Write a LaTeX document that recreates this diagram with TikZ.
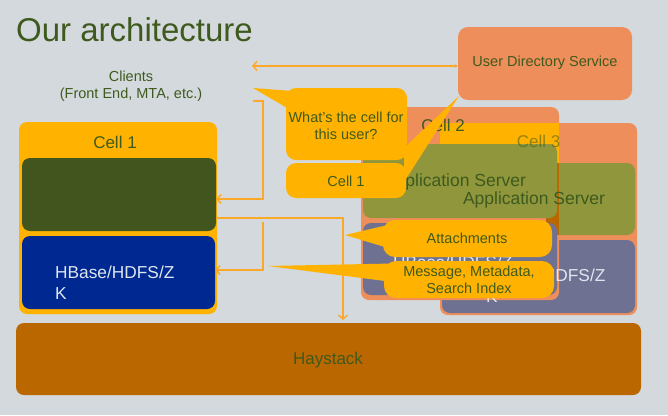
\documentclass[tikz,border=0pt]{standalone}
\usepackage{fontspec}
\setmainfont{Liberation Sans}
\usetikzlibrary{arrows.meta,calc,fit}
\definecolor{bg}{HTML}{D4D9DD}
\definecolor{orY}{HTML}{FFB300}
\definecolor{salmon}{HTML}{EE8E5A}
\definecolor{olive}{HTML}{8F963C}
\definecolor{dgreen}{HTML}{42551E}
\definecolor{dblue}{HTML}{002891}
\definecolor{slate}{HTML}{6E7191}
\definecolor{brown}{HTML}{BB6700}
\definecolor{tgreen}{HTML}{3F5A1E}
\definecolor{ltext}{HTML}{E0E6EE}
\definecolor{lineor}{HTML}{FCA828}
\begin{document}
\begin{tikzpicture}[x=1pt,y=-1pt,
  boxs/.style={rectangle, rounded corners=8pt, inner sep=0pt, draw=none},
  txt/.style={font=\fontsize{14.5}{17}\selectfont, text=tgreen, inner sep=0pt, align=center},
  lbl/.style={font=\fontsize{17}{20}\selectfont, text=tgreen, inner sep=0pt},
  hb/.style={font=\fontsize{17.3}{21}\selectfont, text=ltext, inner sep=0pt, align=left, anchor=west},
  conn/.style={draw=lineor, line width=1.8pt},
  barb/.tip={Straight Barb[length=4pt,width=9pt,line width=1.4pt]}
]
\useasboundingbox (0,0) rectangle (668,415);
\fill[bg] (0,0) rectangle (668,415);

% title and clients
\node[anchor=base west, font=\fontsize{33}{36}\selectfont, text=tgreen, inner sep=0pt] (title) at (16,41) {Our architecture};
\node[txt] (clients) at (131,86) {Clients\\(Front End, MTA, etc.)};

% user directory service
\node[boxs, rounded corners=10pt, fill=salmon, fit={(458,27) (632,100)}] (uds) {};
\node[txt] (udst) at (545,63) {User Directory Service};

% cell 1
\node[boxs, fill=orY, fit={(19,122) (217,314)}] (cell1) {};
\node[lbl] (cell1t) at (115,142) {Cell 1};
\node[boxs, fill=dgreen, fit={(22,158) (216,231)}] (app1) {};
\node[boxs, fill=dblue, fit={(22,236) (215,309)}] (hbase1) {};
\node[hb] (hbase1t) at (55,282.5) {HBase/HDFS/Z\\K};

% cell 3
\node[boxs, fill=salmon, fit={(440,123) (637,315)}] (cell3) {};
\node[boxs, fill=olive, fit={(440,163) (635,235)}] (app3) {};
\node[boxs, fill=slate, fit={(442,240) (635,313)}] (hbase3) {};

% cell 2
\node[boxs, fill=salmon, fit={(361,107) (559,300)}] (cell2) {};
\fill[orY] (cell3.north west) rectangle (cell2.east |- app3.north);
\fill[brown] (546,163) rectangle (cell2.east |- app3.south);
\node[lbl] (cell2t) at (443,125) {Cell 2};
\node[boxs, fill=olive, fit={(363,144) (557,218)}] (app2) {};
\begin{scope}
  \clip (cell3.north west) rectangle (cell2.east |- hbase3.south);
  \node[lbl, text opacity=0.55] (cell3t) at (538.5,141.5) {Cell 3};
\end{scope}
\node[lbl, font=\fontsize{17.5}{20}\selectfont] (app2t) at (455,182) {Application Server};
\node[boxs, fill=slate, fit={(363,223) (557,295)}] (hbase2) {};
\node[hb] (hbase2t) at (393,272.5) {HBase/HDFS/Z\\K};
\node[lbl, font=\fontsize{17.5}{20}\selectfont] (app3t) at (534,200) {Application Server};
\node[hb] (hbase3t) at (486,285.5) {HBase/HDFS/Z\\K};

% haystack
\node[boxs, fill=brown, fit={(16,323) (641,395)}] (haystack) {};
\node[lbl] (haystackt) at (328,360) {Haystack};

% connectors
\coordinate (cl) at (252,66);
\draw[conn, {Triangle[length=3pt,width=3.5pt]}-barb] (uds.west |- cl) -- (cl);
\coordinate (k1) at (253,101);
\coordinate (k1t) at (263,199);
\draw[conn, -barb] (k1) -| (k1t) -- (app1.east |- k1t);
\coordinate (hs) at (217,218);
\coordinate (hx) at (343,320);
\draw[conn, -barb] (app1.east |- hs) -| (hx);
\coordinate (k2) at (263,222);
\coordinate (k2t) at (263,270);
\draw[conn, -barb] (k2) -- (k2t) -- (hbase1.east |- k2t);

% callouts
\node[boxs, rounded corners=10pt, fill=orY, fit={(286,88) (407,160)}] (q1) {};
\fill[orY] (253,88) -- ($(q1.north west)+(4,3)$) -- ($(q1.north west)+(1,20)$) -- cycle;
\node[txt] (q1t) at (346,125.5) {What’s the cell for\\this user?};
\node[boxs, rounded corners=10pt, fill=orY, fit={(286,163) (406,198)}] (cq) {};
\fill[orY] ($(uds.south west)+(1,-4)$) -- ($(cq.north east)+(-2,-15)$) -- ($(cq.north east)+(-2,19)$) -- cycle;
\node[txt] (cqt) at (346,181) {Cell 1};

\node[boxs, rounded corners=12pt, fill=orY, fit={(383,220) (552,257)}] (att) {};
\fill[orY] (345,235) -- ($(att.west)+(7,-14)$) -- ($(att.west)+(7,10)$) -- cycle;
\node[txt] (attt) at (467,238.5) {Attachments};

\node[boxs, rounded corners=12pt, fill=orY, fit={(384,261) (554,298)}] (msg) {};
\fill[orY] (268,266) -- ($(msg.west)+(9,-16)$) -- ($(msg.west)+(9,2.5)$) -- cycle;
\node[txt] (msgt) at (469,280) {Message, Metadata,\\Search Index};
\end{tikzpicture}
\end{document}
